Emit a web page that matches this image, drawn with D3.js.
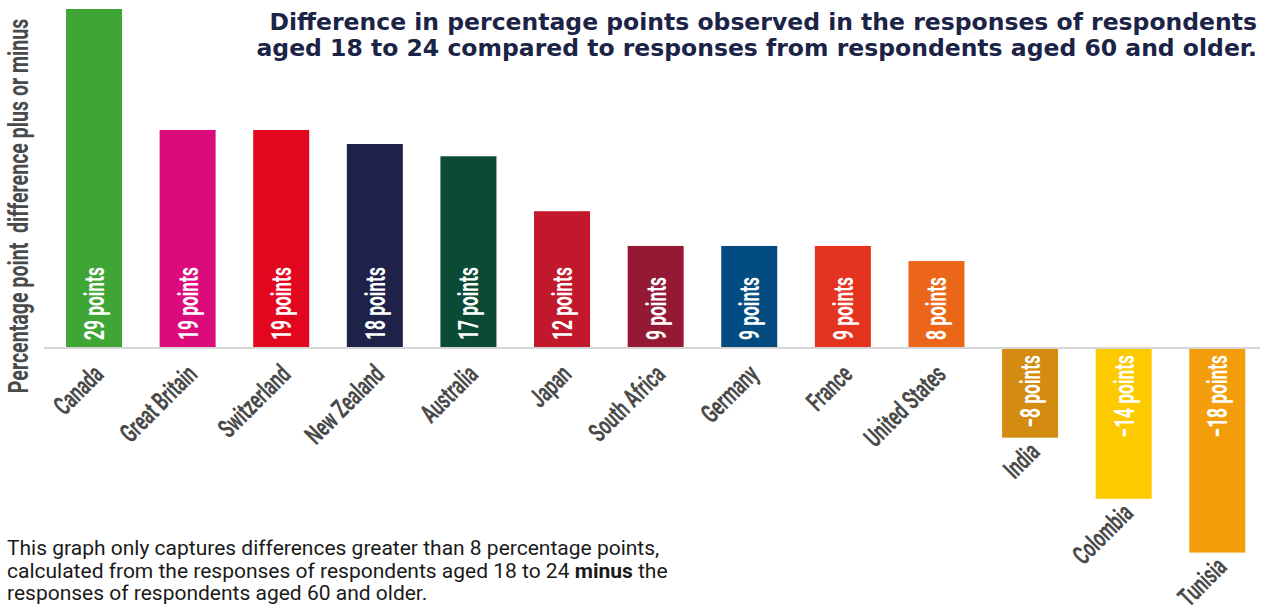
<!DOCTYPE html>
<html>
<head>
<meta charset="utf-8">
<script src="https://cdn.jsdelivr.net/npm/d3@7"></script>
<style>
  html, body { margin: 0; padding: 0; background: #ffffff; }
  svg { display: block; }
</style>
</head>
<body>
<svg id="chart" width="1266" height="605"></svg>
<script>
// ---- data ----
const countries = ["Canada", "Great Britain", "Switzerland", "New Zealand", "Australia", "Japan",
  "South Africa", "Germany", "France", "United States", "India", "Colombia", "Tunisia"];
const values = [29, 18.65, 18.65, 17.45, 16.4, 11.7, 8.73, 8.73, 8.73, 7.44, -7.67, -12.9, -17.5];
const valueLabels = ["29 points", "19 points", "19 points", "18 points", "17 points", "12 points",
  "9 points", "9 points", "9 points", "8 points", "\u22128 points", "\u221214 points", "\u221218 points"];
const colors = ["#3fa535", "#dc0b7b", "#e2061f", "#1e2148", "#0b4a35", "#c1182b",
  "#951934", "#024c82", "#e4341f", "#eb6618", "#d38b10", "#fdca00", "#f39d0b"];
const titleLines = ["Difference in percentage points observed in the responses of respondents",
  "aged 18 to 24 compared to responses from respondents aged 60 and older."];
const yAxisTitle = "Percentage point\u00a0 difference plus or minus";
const footnote = [
  [{t: "This graph only captures differences greater than 8 percentage points,", b: false}],
  [{t: "calculated from the responses of respondents aged 18 to 24 ", b: false}, {t: "minus", b: true}, {t: " the", b: false}],
  [{t: "responses of respondents aged 60 and older.", b: false}]
];

// ---- layout ----
const svg = d3.select("#chart");
const condensed = "Roboto, 'DejaVu Sans', sans-serif";
const squeeze = 0.62;

const x = d3.scaleBand().domain(countries).range([47.3, 1264]).paddingInner(0.4017).paddingOuter(0.2);
const y = d3.scaleLinear().domain([0, 29]).range([348, 9]);

const rows = countries.map((c, i) => ({c, v: values[i], lab: valueLabels[i], col: colors[i]}));

// bars
svg.append("g").selectAll("rect").data(rows).join("rect")
  .attr("x", d => x(d.c))
  .attr("width", x.bandwidth())
  .attr("y", d => d.v >= 0 ? y(d.v) : y(0) + 1)
  .attr("height", d => d.v >= 0 ? y(0) - y(d.v) : y(d.v) - y(0) - 1)
  .attr("fill", d => d.col);

// baseline
svg.append("line")
  .attr("x1", 44).attr("x2", 1260)
  .attr("y1", y(0)).attr("y2", y(0))
  .attr("stroke", "#d6d6d6").attr("stroke-width", 2);

// value labels inside bars
svg.append("g").selectAll("text").data(rows).join("text")
  .attr("transform", d => {
    const cx = x(d.c) + x.bandwidth() / 2;
    const yy = d.v >= 0 ? y(0) - 8 : y(0) + 7;
    return `translate(${cx},${yy}) rotate(-90) scale(${squeeze},1)`;
  })
  .attr("dy", 10)
  .attr("text-anchor", d => d.v >= 0 ? "start" : "end")
  .attr("font-family", condensed)
  .attr("font-weight", 700)
  .attr("font-size", 28)
  .attr("fill", "#ffffff")
  .text(d => d.lab);

// country labels
svg.append("g").selectAll("text").data(rows).join("text")
  .attr("transform", d => {
    const cx = x(d.c) + x.bandwidth() / 2 + 11;
    const yy = d.v >= 0 ? y(0) + 28 : y(d.v) + 16;
    return `translate(${cx},${yy}) rotate(-45) scale(0.64,1)`;
  })
  .attr("text-anchor", "end")
  .attr("font-family", condensed)
  .attr("font-weight", 700)
  .attr("font-size", 26.5)
  .attr("fill", "#4a4a4a")
  .text(d => d.c);

// y-axis title
svg.append("text")
  .attr("transform", `translate(28,206) rotate(-90) scale(0.7,1)`)
  .attr("text-anchor", "middle")
  .attr("font-family", condensed)
  .attr("font-weight", 700)
  .attr("font-size", 28)
  .attr("fill", "#4a4a4a")
  .text(yAxisTitle);

// title
svg.append("g").selectAll("text").data(titleLines).join("text")
  .attr("x", 1257)
  .attr("y", (d, i) => 30 + i * 26)
  .attr("text-anchor", "end")
  .attr("font-family", "'DejaVu Sans', sans-serif")
  .attr("font-weight", 700)
  .attr("font-size", 23.5)
  .attr("fill", "#1b2346")
  .text(d => d);

// footnote
const fn = svg.append("g");
footnote.forEach((line, i) => {
  const t = fn.append("text")
    .attr("x", 7)
    .attr("y", 555 + i * 22.5)
    .attr("font-family", "Roboto, sans-serif")
    .attr("font-size", 21)
    .attr("fill", "#1a1a1a");
  line.forEach(seg => t.append("tspan").attr("font-weight", seg.b ? 700 : 400).text(seg.t));
});
</script>
</body>
</html>
